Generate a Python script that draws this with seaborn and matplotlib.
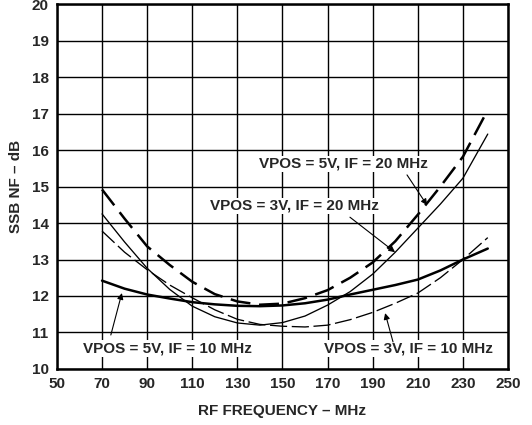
import matplotlib
matplotlib.use("Agg")
import matplotlib.pyplot as plt
import seaborn as sns
import numpy as np

freq = [70, 80, 90, 100, 110, 120, 130, 140, 150, 160, 170, 180, 190, 200, 210, 220, 230, 241]
nf_5v_20 = [14.92, 14.12, 13.36, 12.85, 12.39, 12.05, 11.85, 11.76, 11.79, 11.94, 12.16, 12.5, 12.92, 13.5, 14.23, 15.0, 15.82, 17.1]
nf_3v_20 = [14.25, 13.48, 12.76, 12.18, 11.72, 11.43, 11.26, 11.2, 11.27, 11.45, 11.75, 12.12, 12.6, 13.2, 13.86, 14.52, 15.23, 16.44]
nf_5v_10 = [12.42, 12.2, 12.04, 11.93, 11.83, 11.77, 11.73, 11.72, 11.74, 11.8, 11.9, 12.04, 12.17, 12.3, 12.45, 12.7, 13.0, 13.3]
nf_3v_10 = [13.78, 13.2, 12.72, 12.3, 11.95, 11.62, 11.36, 11.22, 11.17, 11.15, 11.2, 11.35, 11.55, 11.8, 12.08, 12.5, 13.0, 13.6]

labels = ["VPOS = 5V, IF = 20 MHz", "VPOS = 3V, IF = 20 MHz",
          "VPOS = 5V, IF = 10 MHz", "VPOS = 3V, IF = 10 MHz"]
xticks = list(range(50, 251, 20))
yticks = list(range(10, 21, 1))

sns.set_style("white")
plt.rcParams['font.family'] = ['Liberation Sans', 'DejaVu Sans']
plt.rcParams['font.weight'] = 'bold'

FS = 11

fig = plt.figure(figsize=(5.32, 4.25), dpi=100)
ax = fig.add_axes([0.107, 0.132, 0.848, 0.858])

sns.lineplot(x=freq, y=nf_5v_20, ax=ax, color='black', lw=1.8, linestyle=(0, (8, 3.5)), zorder=3)
sns.lineplot(x=freq, y=nf_3v_20, ax=ax, color='black', lw=0.95, zorder=3)
sns.lineplot(x=freq, y=nf_5v_10, ax=ax, color='black', lw=1.8, zorder=3)
sns.lineplot(x=freq, y=nf_3v_10, ax=ax, color='black', lw=0.95, linestyle=(0, (13, 3.5)), zorder=3)

ax.set_xlim(50, 250)
ax.set_ylim(10, 20)
ax.set_xticks(xticks)
ax.set_yticks(yticks)
ax.grid(True, color='black', lw=1.0, zorder=0)
ax.set_axisbelow(True)
for s in ax.spines.values():
    s.set_visible(True)
    s.set_color('black')
    s.set_linewidth(1.8)
ax.tick_params(axis='both', length=0, labelsize=FS)
ax.tick_params(axis='y', pad=6)
ax.tick_params(axis='x', pad=6)
for t in ax.get_xticklabels() + ax.get_yticklabels():
    t.set_fontweight('bold')

ax.set_xlabel("RF FREQUENCY – MHz", fontsize=FS, fontweight='bold', labelpad=9)
ax.set_ylabel("SSB NF – dB", fontsize=FS, fontweight='bold', labelpad=6)

box = dict(facecolor='white', edgecolor='none', pad=1.0)
text_pos = [(176.8, 15.62), (155.1, 14.47), (98.8, 10.55), (205.9, 10.55)]
arrows = [((205.2, 15.32), (214.1, 14.49)),
          ((179.9, 14.16), (199.9, 13.2)),
          ((73.9, 10.93), (78.8, 12.08)),
          ((199.0, 10.74), (195.5, 11.53))]
for lab, (tx, ty) in zip(labels, text_pos):
    ax.text(tx, ty, lab, ha='center', va='center', fontsize=FS, fontweight='bold',
            bbox=box, zorder=5)
for (s, e) in arrows:
    ax.annotate('', xy=e, xytext=s,
                arrowprops=dict(arrowstyle='-|>', color='black', lw=0.8,
                                mutation_scale=9, shrinkA=0, shrinkB=0),
                zorder=6)

fig.savefig("out.png", dpi=100)
